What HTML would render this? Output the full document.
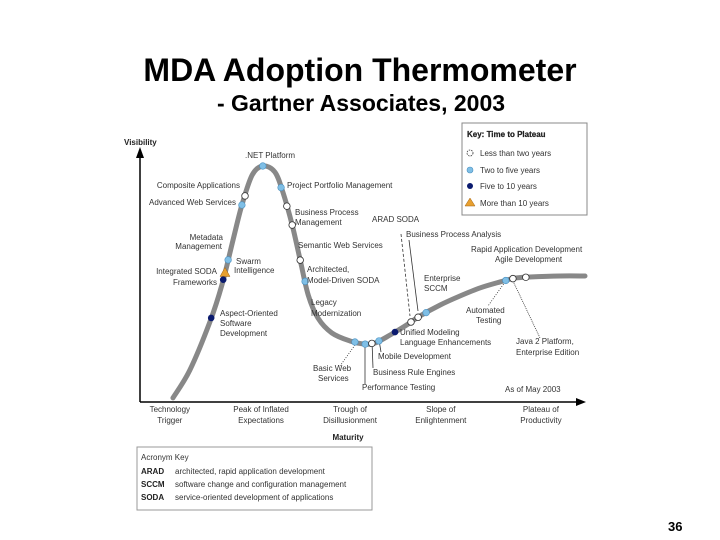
<!DOCTYPE html>
<html><head><meta charset="utf-8">
<style>
html,body{margin:0;padding:0;background:#fff;}
svg{display:block;font-family:"Liberation Sans",sans-serif;}
.l{font-size:8px;fill:#333;}
.b{font-size:8px;fill:#222;font-weight:bold;}
</style></head>
<body>
<svg id="chart" width="720" height="540" viewBox="0 0 720 540">
<text x="360" y="81" text-anchor="middle" font-size="32" font-weight="bold" fill="#000">MDA Adoption Thermometer</text>
<text x="361" y="111" text-anchor="middle" font-size="23" font-weight="bold" fill="#000">- Gartner Associates, 2003</text>

<g>
<line x1="140" y1="402" x2="140" y2="150" stroke="#000" stroke-width="1.5"/>
<polygon points="136,158 140,147 144,158" fill="#000"/>
<line x1="140" y1="402" x2="578" y2="402" stroke="#000" stroke-width="1.5"/>
<polygon points="576,398 586,402 576,406" fill="#000"/>
<text x="124" y="145" class="b" font-size="9">Visibility</text>
<text x="348" y="440" class="b" text-anchor="middle" font-size="9">Maturity</text>
</g>

<g id="phases"></g>
<path id="curve" fill="none" stroke="#888" stroke-width="5" stroke-linecap="round"/>

<g stroke="#333" stroke-width="0.8" fill="none">
<line x1="401" y1="234" x2="410" y2="316" stroke-dasharray="3,2"/>
<line x1="409" y1="240" x2="418" y2="311"/>
<line x1="355" y1="345" x2="340" y2="366" stroke-dasharray="1,1.5"/>
<line x1="365" y1="346" x2="365" y2="384"/>
<line x1="379" y1="340" x2="381" y2="352"/>
<line x1="372" y1="341" x2="373" y2="368"/>
<line x1="505" y1="282" x2="488" y2="306" stroke-dasharray="1,1.5"/>
<line x1="513" y1="281" x2="540" y2="338" stroke-dasharray="1,1"/>
</g>
<g id="markers"></g>

<g>
<text class="l" x="245" y="158">.NET Platform</text>
<text class="l" x="240" y="188" text-anchor="end">Composite Applications</text>
<text class="l" x="236" y="205" text-anchor="end">Advanced Web Services</text>
<text class="l" x="287" y="188">Project Portfolio Management</text>
<text class="l" x="295" y="215">Business Process</text>
<text class="l" x="295" y="225">Management</text>
<text class="l" x="298" y="248">Semantic Web Services</text>
<text class="l" x="307" y="272">Architected,</text>
<text class="l" x="307" y="283">Model-Driven SODA</text>
<text class="l" x="311" y="305">Legacy</text>
<text class="l" x="311" y="316">Modernization</text>
<text class="l" x="223" y="240" text-anchor="end">Metadata</text>
<text class="l" x="222" y="249" text-anchor="end">Management</text>
<text class="l" x="236" y="264">Swarm</text>
<text class="l" x="234" y="273">Intelligence</text>
<text class="l" x="217" y="274" text-anchor="end">Integrated SODA</text>
<text class="l" x="217" y="285" text-anchor="end">Frameworks</text>
<text class="l" x="220" y="316">Aspect-Oriented</text>
<text class="l" x="220" y="326">Software</text>
<text class="l" x="220" y="336">Development</text>
<text class="l" x="372" y="222">ARAD SODA</text>
<text class="l" x="406" y="237">Business Process Analysis</text>
<text class="l" x="471" y="252">Rapid Application Development</text>
<text class="l" x="495" y="262">Agile Development</text>
<text class="l" x="424" y="281">Enterprise</text>
<text class="l" x="424" y="291">SCCM</text>
<text class="l" x="466" y="313">Automated</text>
<text class="l" x="476" y="323">Testing</text>
<text class="l" x="400" y="335">Unified Modeling</text>
<text class="l" x="400" y="345">Language Enhancements</text>
<text class="l" x="516" y="344">Java 2 Platform,</text>
<text class="l" x="516" y="355">Enterprise Edition</text>
<text class="l" x="378" y="359">Mobile Development</text>
<text class="l" x="313" y="371">Basic Web</text>
<text class="l" x="318" y="381">Services</text>
<text class="l" x="373" y="375">Business Rule Engines</text>
<text class="l" x="362" y="390">Performance Testing</text>
<text class="l" x="505" y="392">As of May 2003</text>
</g>

<g>
<rect x="462" y="123" width="125" height="92" fill="#fff" stroke="#888" stroke-width="1"/>
<text class="b" x="467" y="137" font-weight="normal" fill="#111" stroke="#111" stroke-width="0.2">Key: Time to Plateau</text>
<circle cx="470" cy="153" r="3" fill="#fff" stroke="#333" stroke-width="0.8" stroke-dasharray="1.5,1"/>
<text class="l" x="480" y="156">Less than two years</text>
<circle cx="470" cy="170" r="3" fill="#7fbfe6" stroke="#4a90c0" stroke-width="0.6"/>
<text class="l" x="480" y="173">Two to five years</text>
<circle cx="470" cy="186" r="3" fill="#0a1a6e"/>
<text class="l" x="480" y="189">Five to 10 years</text>
<polygon points="465,206 470,198 475,206" fill="#e8a030" stroke="#a06010" stroke-width="0.5"/>
<text class="l" x="480" y="206">More than 10 years</text>
</g>

<g>
<rect x="137" y="447" width="235" height="63" fill="#fff" stroke="#999" stroke-width="1"/>
<text class="l" x="141" y="460">Acronym Key</text>
<text class="b" x="141" y="474">ARAD</text><text class="l" x="175" y="474">architected, rapid application development</text>
<text class="b" x="141" y="487">SCCM</text><text class="l" x="175" y="487">software change and configuration management</text>
<text class="b" x="141" y="500">SODA</text><text class="l" x="175" y="500">service-oriented development of applications</text>
</g>

<text x="668" y="531" font-size="13" font-weight="bold" fill="#000">36</text>
</svg>
<script>
const curveMaturity=[7.4,11.2,15.7,18.4,20.9,22.9,25.2,27.6,30.3,32.1,34.2,36,37.8,40,43.1,47.2,50.6,52.8,56.2,59.6,62.9,67.4,71.9,76.4,80.9,84.3,87.6,94.4,100];
const curveVisibility=[0.8,11.5,30,44.2,61.5,75,86.5,90,87.7,80,67.3,53.8,40.4,31.5,25.8,22.7,21.5,21.9,25,28.5,32.3,36.5,40,43.1,45.4,46.9,47.3,47.7,47.7];
const techNames=["NET Platform","Composite Applications","Advanced Web Services","Project Portfolio Management","Business Process Management","Semantic Web Services","Model-Driven SODA","Legacy Modernization","Metadata Management","Swarm Intelligence","Integrated SODA Frameworks","Aspect-Oriented Software Development","Basic Web Services","Performance Testing","Business Rule Engines","Mobile Development","UML Enhancements","ARAD SODA","Business Process Analysis","Enterprise SCCM","Automated Testing","Java 2 Enterprise Edition","Rapid Application Development"];
const techMaturity=[27.6,23.6,22.9,31.7,33.0,34.2,36.0,37.1,19.8,19.1,18.7,16.0,48.3,50.6,52.1,53.7,57.3,60.9,62.5,64.3,82.2,83.8,86.7];
const techPlateau=[2,1,2,2,1,1,1,2,2,4,3,3,2,2,1,2,3,1,1,2,2,1,1];
const phaseLabels=[["Technology","Trigger"],["Peak of Inflated","Expectations"],["Trough of","Disillusionment"],["Slope of","Enlightenment"],["Plateau of","Productivity"]];
const phaseCenters=[6.7,27.2,47.2,67.6,90.1];

const xS=d=>140+d*4.45, yS=v=>400-v*2.6;
const NS="http://www.w3.org/2000/svg";
function visAt(m){for(let i=1;i<curveMaturity.length;i++){if(m<=curveMaturity[i]){const t=(m-curveMaturity[i-1])/(curveMaturity[i]-curveMaturity[i-1]);return curveVisibility[i-1]+t*(curveVisibility[i]-curveVisibility[i-1]);}}return curveVisibility[curveVisibility.length-1];}
const pts=curveMaturity.map((m,i)=>[xS(m),yS(curveVisibility[i])]);
let d="M"+pts[0][0]+","+pts[0][1];
for(let i=0;i<pts.length-1;i++){const p0=pts[Math.max(0,i-1)],p1=pts[i],p2=pts[i+1],p3=pts[Math.min(pts.length-1,i+2)];
d+=` C${p1[0]+(p2[0]-p0[0])/6},${p1[1]+(p2[1]-p0[1])/6} ${p2[0]-(p3[0]-p1[0])/6},${p2[1]-(p3[1]-p1[1])/6} ${p2[0]},${p2[1]}`;}
document.getElementById('curve').setAttribute('d',d);
const mg=document.getElementById('markers');
techMaturity.forEach((m,i)=>{const cx=xS(m),cy=yS(visAt(m));const k=techPlateau[i];let el;
if(k===4){el=document.createElementNS(NS,'polygon');el.setAttribute('points',`${cx-5},${cy+4} ${cx},${cy-5} ${cx+5},${cy+4}`);el.setAttribute('fill','#e8a030');el.setAttribute('stroke','#a06010');el.setAttribute('stroke-width','0.5');}
else{el=document.createElementNS(NS,'circle');el.setAttribute('cx',cx);el.setAttribute('cy',cy);el.setAttribute('r',3.3);
if(k===1){el.setAttribute('fill','#fff');el.setAttribute('stroke','#333');el.setAttribute('stroke-width','0.8');}
else if(k===2){el.setAttribute('fill','#7fbfe6');el.setAttribute('stroke','#4a90c0');el.setAttribute('stroke-width','0.6');}
else{el.setAttribute('fill','#0a1a6e');}}


mg.appendChild(el);});
const pg=document.getElementById('phases');
phaseLabels.forEach((lines,i)=>{lines.forEach((t,j)=>{const tx=document.createElementNS(NS,'text');tx.setAttribute('x',xS(phaseCenters[i]));tx.setAttribute('y',412+j*11);tx.setAttribute('text-anchor','middle');tx.setAttribute('class','l');tx.textContent=t;


pg.appendChild(tx);});});
</script>
</body></html>
